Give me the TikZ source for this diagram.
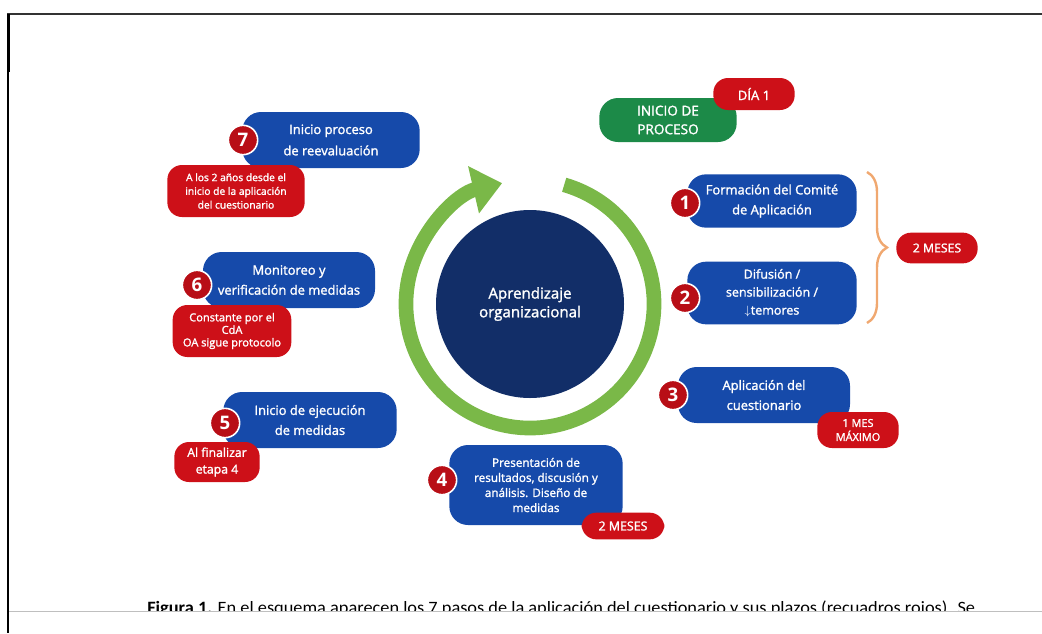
\documentclass[tikz,border=0pt]{standalone}
\usepackage{fontspec}
\setmainfont{Open Sans}
\newfontfamily\medfont{Open Sans}[FakeBold=1.6]
\newfontfamily\capfont{Carlito}
\usetikzlibrary{arrows.meta, positioning, decorations.pathreplacing}
\definecolor{stepblue}{RGB}{22, 74, 170}
\definecolor{termred}{RGB}{205, 16, 24}
\definecolor{startgreen}{RGB}{28, 138, 72}
\definecolor{ringgreen}{RGB}{122, 184, 72}
\definecolor{corenavy}{RGB}{18, 46, 104}
\definecolor{braceorange}{RGB}{240, 168, 112}

\begin{document}
\begin{tikzpicture}[
  x=0.75pt, y=-0.75pt,
  stepbox/.style={rectangle, rounded corners=14pt, fill=stepblue, text=white,
                  align=center, font=\medfont\fontsize{9.7}{15}\selectfont},
  termbox/.style={rectangle, rounded corners=11pt, fill=termred, text=white,
                  align=center, inner sep=2pt, font=\medfont\fontsize{8}{10}\selectfont},
  badge/.style={circle, fill=termred!90!black, draw=white, line width=1.2pt,
                minimum size=22pt, inner sep=0pt, text=white,
                font=\bfseries\fontsize{14}{14}\selectfont},
  ring/.style={ringgreen, line width=11pt, -{Triangle[length=22pt, width=35pt]}},
  brace/.style={braceorange, line width=1.8pt, decorate,
                decoration={brace, amplitude=15pt}}
]
\useasboundingbox (0,0) rectangle (1042,633);
% frame of the screenshot
\draw[line width=2pt, black!80] (7,14) -- (1042,14);
\draw[line width=2.2pt] (8,14) -- (8,633);
\draw[line width=1.4pt] (9,14) -- (9,72);
\draw[black!25, line width=0.6pt] (9,611) -- (1042,611);

% centre
\node[circle, fill=corenavy, minimum size=141pt, text=white, align=center,
      font=\medfont\fontsize{11.3}{14}\selectfont] (core) at (530,304)
  {Aprendizaje\\organizacional};
\draw[ring] (core.center) ++(-74:124) arc[start angle=-74, end angle=257, radius=124];

% start
\node[rectangle, rounded corners=14pt, fill=startgreen, text=white, align=center,
      minimum width=103pt, minimum height=33pt,
      font=\medfont\fontsize{10.2}{14}\selectfont] (start) at (668,120) {INICIO DE\\PROCESO};
\node[termbox, minimum width=61pt, minimum height=24pt, font=\medfont\fontsize{9.8}{10}\selectfont]
  (day1) at (754,94) {DÍA 1};

% steps
\node[stepbox, minimum width=127pt, minimum height=40pt] (s1) at (772,201) {Formación del Comité\\de Aplicación};
\node[stepbox, minimum width=127pt, minimum height=47pt, font=\medfont\fontsize{9.4}{13.5}\selectfont]
  (s2) at (772,293) {Difusión /\\sensibilización /\\$\downarrow$temores};
\node[stepbox, minimum width=129pt, minimum height=42pt] (s3) at (764,395) {Aplicación del\\cuestionario};
\node[stepbox, minimum width=130pt, minimum height=60pt, font=\medfont\fontsize{8.8}{11.3}\selectfont]
  (s4) at (536,485) {Presentación de\\resultados, discusión y\\análisis. Diseño de\\medidas};
\node[stepbox, minimum width=130pt, minimum height=42pt] (s5) at (310,420) {Inicio de ejecución\\de medidas};
\node[stepbox, minimum width=129pt, minimum height=42pt] (s6) at (289,280) {Monitoreo y\\verificación de medidas};
\node[stepbox, minimum width=133pt, minimum height=42pt, font=\medfont\fontsize{9.7}{16}\selectfont]
  (s7) at (331,140) {Inicio proceso\\de reevaluación};

% deadlines
\coordinate (br1) at (867,172);
\coordinate (br2) at (867,323);
\draw[brace] (br1) -- (br2);
\node[termbox, minimum width=61pt, minimum height=23pt, font=\medfont\fontsize{9.2}{10}\selectfont]
  (t12) at (937,248) {2 MESES};
\node[termbox, minimum width=61pt, minimum height=27pt, font=\medfont\fontsize{8.2}{10.5}\selectfont]
  (t3) at (858,430) {1 MES\\MÁXIMO};
\node[termbox, minimum width=62pt, minimum height=20pt, font=\medfont\fontsize{9.3}{10}\selectfont]
  (t4) at (623,526) {2 MESES};
\node[termbox, minimum width=64pt, minimum height=30pt, font=\medfont\fontsize{9.2}{12.5}\selectfont]
  (t5) at (217,462) {Al finalizar\\etapa 4};
\node[termbox, minimum width=89pt, minimum height=39pt, font=\medfont\fontsize{8.3}{9.4}\selectfont]
  (t6) at (232,331) {Constante por el\\CdA\\OA sigue protocolo};
\node[termbox, minimum width=103pt, minimum height=39pt, font=\medfont\fontsize{7.7}{10.3}\selectfont]
  (t7) at (236,191) {A los 2 años desde el\\inicio de la aplicación\\del cuestionario};

% numbers
\node[badge] (n1) at (685,203) {1};
\node[badge] (n2) at (685,298) {2};
\node[badge] (n3) at (673,395) {3};
\node[badge] (n4) at (442,480) {4};
\node[badge] (n5) at (225,423) {5};
\node[badge] (n6) at (197,285) {6};
\node[badge] (n7) at (243,140) {7};

% caption, cut off at the bottom
\begin{scope}
\clip (9,0) rectangle (1042,610);
\node[anchor=base west, inner sep=0pt] (cap) at (147,613)
  {\resizebox{621pt}{9.5pt}{\capfont\textbf{Figura 1.} En el esquema aparecen los 7 pasos de la aplicación del cuestionario y sus plazos (recuadros rojos). Se}};
\end{scope}
\end{tikzpicture}
\end{document}
